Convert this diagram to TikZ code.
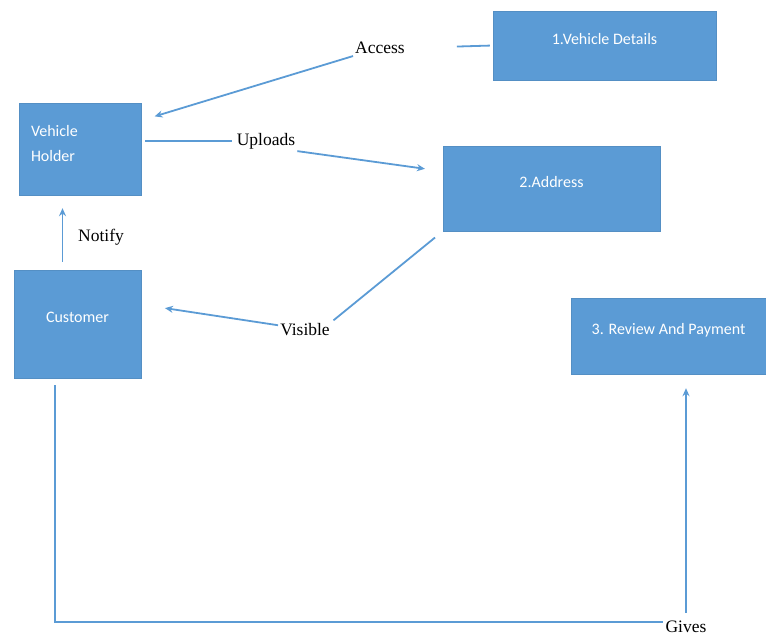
\documentclass[tikz,border=0pt]{standalone}
\usepackage{fontspec}
\setmainfont{Liberation Serif}
\newfontfamily\boxfont{Carlito}
\usetikzlibrary{arrows.meta,calc}
\definecolor{msblue}{HTML}{5B9BD5}

\begin{document}
\begin{tikzpicture}[
  x=1pt, y=-1pt,
  font=\fontsize{17.5}{20}\selectfont,
  box/.style={fill=msblue, draw=msblue!92!black, line width=0.4pt, text=white,
              font=\boxfont\fontsize{16}{20}\selectfont, align=center, inner sep=0pt,
              text height=12pt, text depth=14pt},
  lbl/.style={inner sep=2pt},
  link/.style={draw=msblue, line width=1.8pt},
  arr/.style={link, -{Stealth[length=8pt,width=7pt]}}]

\useasboundingbox (0,0) rectangle (766,636);

% the boxes
\node[box, minimum width=223pt, minimum height=69pt] (det) at (604.5,45.5) {1.Vehicle Details};
\node[box, minimum width=122pt, minimum height=92pt, text width=98pt, align=left,
      inner xsep=12pt, text depth=37pt] (holder) at (80,149) {Vehicle\\[5pt]Holder};
\node[box, minimum width=217pt, minimum height=85pt] (address) at (551.5,188.5) {2.Address};
\node[box, minimum width=127pt, minimum height=108pt] (customer) at (77.5,324) {Customer};
\node[box, minimum width=195pt, minimum height=76pt] (review) at (668.5,336) {3. Review And Payment};

% the labels
\node[lbl] (access) at (380,48) {Access};
\node[lbl] (uploads) at (266,141) {Uploads};
\node[lbl] (notify) at (101,237) {Notify};
\node[lbl] (visible) at (305,330) {Visible};
\node[lbl] (gives) at (686,627) {Gives};

% connectors
\draw[link, shorten <=50pt, shorten >=3pt] (access.east) -- (det.west);
\draw[arr, shorten >=14pt] (access.south west) -- (holder.25);
\draw[link, shorten <=4pt, shorten >=3pt] (holder.east |- uploads.west) -- (uploads.west);
\draw[arr, shorten >=18pt] (uploads.south east) -- (address.171);
\draw[arr, shorten <=8pt, shorten >=13pt] ([xshift=-15pt]customer.north) -- ([xshift=-15pt]customer.north |- holder.south);
\draw[link, shorten <=10pt, shorten >=2pt] (address.south west) -- (visible.north east);
\draw[arr, shorten >=24pt] (visible.170) -- (customer.17);
\draw[link, shorten <=7pt] ([xshift=-22.5pt]customer.south) |- ([yshift=5pt]gives.west);
\draw[arr, shorten <=6pt, shorten >=14pt] (gives.north) -- (gives.north |- review.south);
\end{tikzpicture}
\end{document}
